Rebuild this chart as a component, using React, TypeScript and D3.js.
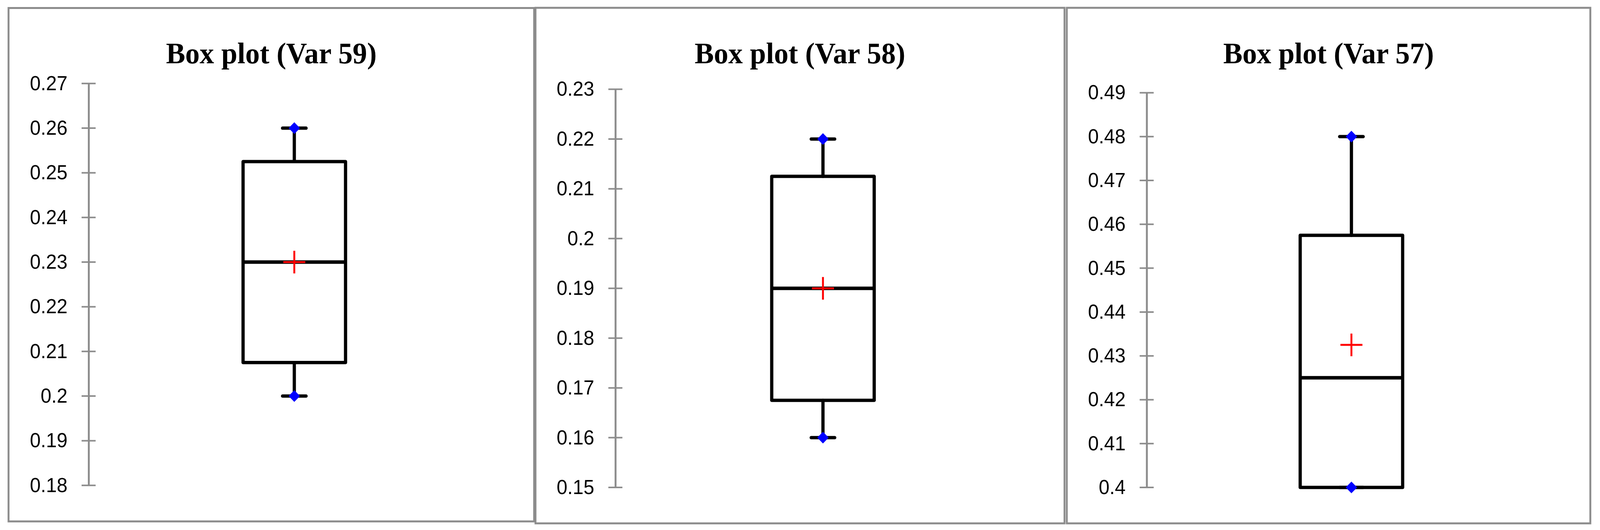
import { useEffect } from "react"
import * as d3 from "d3"

// Chart values, one entry per panel
const titles = ["Box plot (Var 59)", "Box plot (Var 58)", "Box plot (Var 57)"]
const minValues = [0.2, 0.16, 0.4]
const q1Values = [0.2075, 0.1675, 0.4]
const medianValues = [0.23, 0.19, 0.425]
const q3Values = [0.2525, 0.2125, 0.4575]
const maxValues = [0.26, 0.22, 0.48]
const meanValues = [0.23, 0.19, 0.4325]

// Axis tick labels for each panel
const ticks59 = [0.18, 0.19, 0.2, 0.21, 0.22, 0.23, 0.24, 0.25, 0.26, 0.27]
const ticks58 = [0.15, 0.16, 0.17, 0.18, 0.19, 0.2, 0.21, 0.22, 0.23]
const ticks57 = [0.4, 0.41, 0.42, 0.43, 0.44, 0.45, 0.46, 0.47, 0.48, 0.49]
const tickSets = [ticks59, ticks58, ticks57]

// Panel layout (pixels)
const panels = [
  { x0: 22.5, x1: 1407.5, y0: 20.5, y1: 1335, axisX: 234, boxX: 775.5, top: 213.8, bottom: 1242.7 },
  { x0: 1411, x1: 2805, y0: 20, y1: 1340, axisX: 1622, boxX: 2168.5, top: 228.5, bottom: 1248 },
  { x0: 2811, x1: 4190.5, y0: 20, y1: 1340, axisX: 3022, boxX: 3561, top: 237.5, bottom: 1248 },
]

const W = 4216
const H = 1357
const gray = "#8c8c8c"
const boxWidth = 270
const capWidth = 62
const crossHalf = 29
const diamond = d3.symbol(d3.symbolSquare, 450)()

function BoxPanel({ i }: { i: number }) {
  const p = panels[i]
  const ticks = tickSets[i]
  const y = d3
    .scaleLinear()
    .domain([d3.min(ticks) as number, d3.max(ticks) as number])
    .range([p.bottom, p.top])

  const cx = p.boxX
  const left = cx - boxWidth / 2
  const yMin = y(minValues[i])
  const yMax = y(maxValues[i])
  const yQ1 = y(q1Values[i])
  const yQ3 = y(q3Values[i])
  const yMed = y(medianValues[i])
  const yMean = y(meanValues[i])

  return (
    <g>
      {/* panel frame */}
      <rect x={p.x0} y={p.y0} width={p.x1 - p.x0} height={p.y1 - p.y0} fill="white" stroke={gray} strokeWidth={5} />

      <text
        x={(p.x0 + p.x1) / 2}
        y={162}
        textAnchor="middle"
        fontFamily="'Liberation Serif', 'Times New Roman', serif"
        fontWeight="bold"
        fontSize={76}
        fill="black"
      >
        {titles[i]}
      </text>

      {/* y axis */}
      <line x1={p.axisX} x2={p.axisX} y1={y.range()[1]} y2={y.range()[0]} stroke={gray} strokeWidth={5} />
      {ticks.map((t) => (
        <g key={t}>
          <line x1={p.axisX - 19} x2={p.axisX + 18} y1={y(t)} y2={y(t)} stroke={gray} strokeWidth={4} />
          <text
            x={p.axisX - 56}
            y={y(t) + 17}
            textAnchor="end"
            fontFamily="'Liberation Sans', Arial, sans-serif"
            fontSize={51}
            fill="black"
          >
            {String(t)}
          </text>
        </g>
      ))}

      {/* whiskers */}
      <g stroke="black" strokeWidth={8.5} strokeLinecap="round">
        <line x1={cx} x2={cx} y1={yQ3} y2={yMax} />
        <line x1={cx} x2={cx} y1={yQ1} y2={yMin} />
        <line x1={cx - capWidth / 2} x2={cx + capWidth / 2} y1={yMax} y2={yMax} />
        <line x1={cx - capWidth / 2} x2={cx + capWidth / 2} y1={yMin} y2={yMin} />
      </g>

      {/* box and median */}
      <rect
        x={left}
        y={yQ3}
        width={boxWidth}
        height={yQ1 - yQ3}
        fill="none"
        stroke="black"
        strokeWidth={8.5}
        strokeLinejoin="round"
      />
      <line x1={left} x2={left + boxWidth} y1={yMed} y2={yMed} stroke="black" strokeWidth={9} />

      {/* min / max markers */}
      {[yMin, yMax].map((yy, k) => (
        <path key={k} d={diamond as string} transform={`translate(${cx},${yy}) rotate(45)`} fill="#0000ff" />
      ))}

      {/* mean */}
      <g stroke="#ff0000" strokeWidth={5}>
        <line x1={cx - crossHalf} x2={cx + crossHalf} y1={yMean} y2={yMean} />
        <line x1={cx} x2={cx} y1={yMean - crossHalf} y2={yMean + crossHalf} />
      </g>
    </g>
  )
}

export default function App() {
  useEffect(() => {
    document.body.style.margin = "0"
    document.body.style.overflow = "hidden"
  }, [])

  return (
    <svg
      viewBox={`0 0 ${W} ${H}`}
      preserveAspectRatio="none"
      style={{ position: "fixed", left: 0, top: 0, width: "100vw", height: "100vh", background: "white", display: "block" }}
    >
      <rect width={W} height={H} fill="white" />
      {titles.map((_, i) => (
        <BoxPanel key={i} i={i} />
      ))}
    </svg>
  )
}
